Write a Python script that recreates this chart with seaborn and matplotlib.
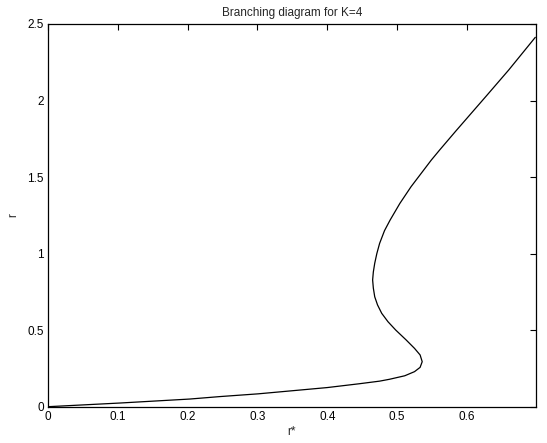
import matplotlib
matplotlib.use("Agg")
import matplotlib.pyplot as plt
import seaborn as sns
import pandas as pd

# values (r* on x, r on y)
r_star = [0.0, 0.103, 0.203, 0.246, 0.301, 0.400, 0.446, 0.475, 0.489, 0.511,
          0.525, 0.533, 0.536, 0.533, 0.525, 0.513, 0.498, 0.487, 0.478, 0.472,
          0.468, 0.466, 0.465, 0.466, 0.468, 0.471, 0.475, 0.482, 0.490, 0.504,
          0.520, 0.549, 0.561, 0.584, 0.629, 0.660, 0.698]
r_val = [0.0, 0.024, 0.050, 0.066, 0.084, 0.125, 0.150, 0.167, 0.179, 0.202,
         0.229, 0.257, 0.294, 0.338, 0.381, 0.436, 0.501, 0.555, 0.610, 0.665,
         0.718, 0.775, 0.828, 0.880, 0.937, 1.000, 1.067, 1.150, 1.219, 1.328,
         1.437, 1.611, 1.677, 1.800, 2.036, 2.200, 2.413]
x_ticks = [0, 0.1, 0.2, 0.3, 0.4, 0.5, 0.6]
x_tick_labels = ["0", "0.1", "0.2", "0.3", "0.4", "0.5", "0.6"]
y_ticks = [0, 0.5, 1, 1.5, 2, 2.5]
y_tick_labels = ["0", "0.5", "1", "1.5", "2", "2.5"]

sns.set_style("white")
plt.rcParams['font.family'] = ['Liberation Sans', 'DejaVu Sans']

df = pd.DataFrame({"r*": r_star, "r": r_val})

fig = plt.figure(figsize=(5.47, 4.43), dpi=100)
ax = fig.add_axes([48/547, 1-406.7/443, (536-48)/547, (406.7-24)/443])
sns.lineplot(data=df, x="r*", y="r", sort=False, estimator=None,
             color="black", linewidth=0.9, ax=ax)

ax.set_xlim(0, 0.699)
ax.set_ylim(0, 2.5)
ax.set_xticks(x_ticks)
ax.set_xticklabels(x_tick_labels)
ax.set_yticks(y_ticks)
ax.set_yticklabels(y_tick_labels)
ax.tick_params(direction="in", length=4, width=0.8, labelsize=8.5,
               top=True, right=True, colors="black", pad=3)
for s in ax.spines.values():
    s.set_visible(True)
    s.set_color("black")
    s.set_linewidth(0.9)
ax.set_xlabel("r*", fontsize=8.5, labelpad=2)
ax.set_ylabel("r", fontsize=8.5, labelpad=6)
ax.set_title("Branching diagram for K=4", fontsize=8.5, pad=6)

fig.savefig("out.png", dpi=100)
